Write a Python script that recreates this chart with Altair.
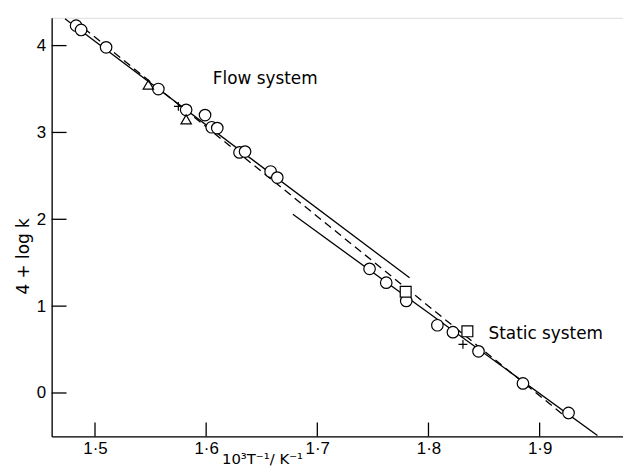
import altair as alt
import pandas as pd

# circles (open)
circ_x = [1.483, 1.4875, 1.510, 1.557, 1.582, 1.599, 1.605, 1.610, 1.630, 1.635,
          1.658, 1.664, 1.747, 1.762, 1.780, 1.808, 1.822, 1.845, 1.885, 1.926]
circ_y = [4.23, 4.18, 3.98, 3.50, 3.26, 3.20, 3.06, 3.05, 2.77, 2.78,
          2.55, 2.48, 1.43, 1.27, 1.06, 0.78, 0.70, 0.48, 0.11, -0.23]
# squares
sq_x = [1.7795, 1.835]
sq_y = [1.166, 0.71]
# triangles
tri_x = [1.548, 1.582]
tri_y = [3.55, 3.15]
# plus signs
plus_x = [1.575, 1.831]
plus_y = [3.30, 0.56]

# fitted lines
flow_x = [1.473, 1.783]
flow_y = [4.31, 1.326]
static_x = [1.678, 1.952]
static_y = [2.057, -0.49]
dash_x = [1.49, 1.926]
dash_y = [4.20, -0.30]

x_ticks = [1.5, 1.6, 1.7, 1.8, 1.9]
y_ticks = [0, 1, 2, 3, 4]

labels = ["Flow system", "Static system"]
label_x = [1.606, 1.854]
label_y = [3.61, 0.674]

W, H = 576, 422
FONT = "Liberation Sans"
TFONT = "DejaVu Sans"

xs = alt.Scale(domain=[1.461, 1.975], nice=False, zero=False)
ys = alt.Scale(domain=[-0.5, 4.32], nice=False, zero=False)

x_axis = alt.Axis(values=x_ticks, ticks=False, grid=False,
                  labelExpr="replace(format(datum.value, '.1f'), '.', '·')",
                  labelPadding=4, labelFontSize=17, labelFont=FONT, labelColor="black",
                  domainColor="black", domainWidth=1.3,
                  title="10³T⁻¹/ K⁻¹", titleFont=TFONT, titleFontSize=15,
                  titleFontWeight="normal", titleColor="black",
                  titleX=212, titleY=27, titleBaseline="alphabetic")
y_axis = alt.Axis(values=y_ticks, ticks=False, grid=False, format="d",
                  labelPadding=6, labelFontSize=17, labelFont=FONT, labelColor="black",
                  domainColor="black", domainWidth=1.3,
                  title="4 + log k", titleFont=TFONT, titleFontSize=17,
                  titleFontWeight="normal", titleColor="black",
                  titleAngle=270, titleX=-28, titleY=240, titleBaseline="middle")


def X():
    return alt.X("x:Q", scale=xs, axis=x_axis)


def Y():
    return alt.Y("y:Q", scale=ys, axis=y_axis)


def df(xv, yv):
    return pd.DataFrame({"x": xv, "y": yv})


circles = alt.Chart(df(circ_x, circ_y)).mark_point(
    shape="circle", filled=True, fill="white", stroke="black", strokeWidth=1.2, size=135, opacity=1
).encode(x=X(), y=Y())

squares = alt.Chart(df(sq_x, sq_y)).mark_point(
    shape="square", filled=True, fill="white", stroke="black", strokeWidth=1.2, size=120, opacity=1
).encode(x=X(), y=Y())

tris = alt.Chart(df(tri_x, tri_y)).mark_point(
    shape="triangle-up", filled=False, stroke="black", strokeWidth=1.2, size=110, opacity=1
).encode(x=X(), y=Y())

pluses = alt.Chart(df(plus_x, plus_y)).mark_point(
    shape="M -1 0 L 1 0 M 0 -1 L 0 1", filled=False, stroke="black", strokeWidth=1.2, size=80, opacity=1
).encode(x=X(), y=Y())

flow = alt.Chart(df(flow_x, flow_y)).mark_line(color="black", strokeWidth=1.3).encode(x=X(), y=Y())
static = alt.Chart(df(static_x, static_y)).mark_line(color="black", strokeWidth=1.3).encode(x=X(), y=Y())
dashed = alt.Chart(df(dash_x, dash_y)).mark_line(
    color="black", strokeWidth=1.3, strokeDash=[8, 5]).encode(x=X(), y=Y())

xt = alt.Chart(pd.DataFrame({"x": x_ticks})).mark_rule(color="black", strokeWidth=1.3).encode(
    x=X(), y=alt.value(H), y2=alt.value(H - 14))
yt = alt.Chart(pd.DataFrame({"y": y_ticks})).mark_rule(color="black", strokeWidth=1.3).encode(
    y=Y(), x=alt.value(0), x2=alt.value(15))

txt = alt.Chart(pd.DataFrame({"x": label_x, "y": label_y, "t": labels})).mark_text(
    align="left", baseline="middle", font=TFONT, fontSize=17, color="black"
).encode(x=X(), y=Y(), text="t:N")

chart = alt.layer(flow, static, dashed, xt, yt, circles, squares, tris, pluses, txt).properties(
    width=W, height=H,
    autosize=alt.AutoSizeParams(type="none"),
    padding={"left": 44, "top": 8, "right": 0, "bottom": 35},
).configure_view(stroke=None).configure(background="white")

chart.save("out.html", embed_options={"renderer": "svg", "actions": False})
